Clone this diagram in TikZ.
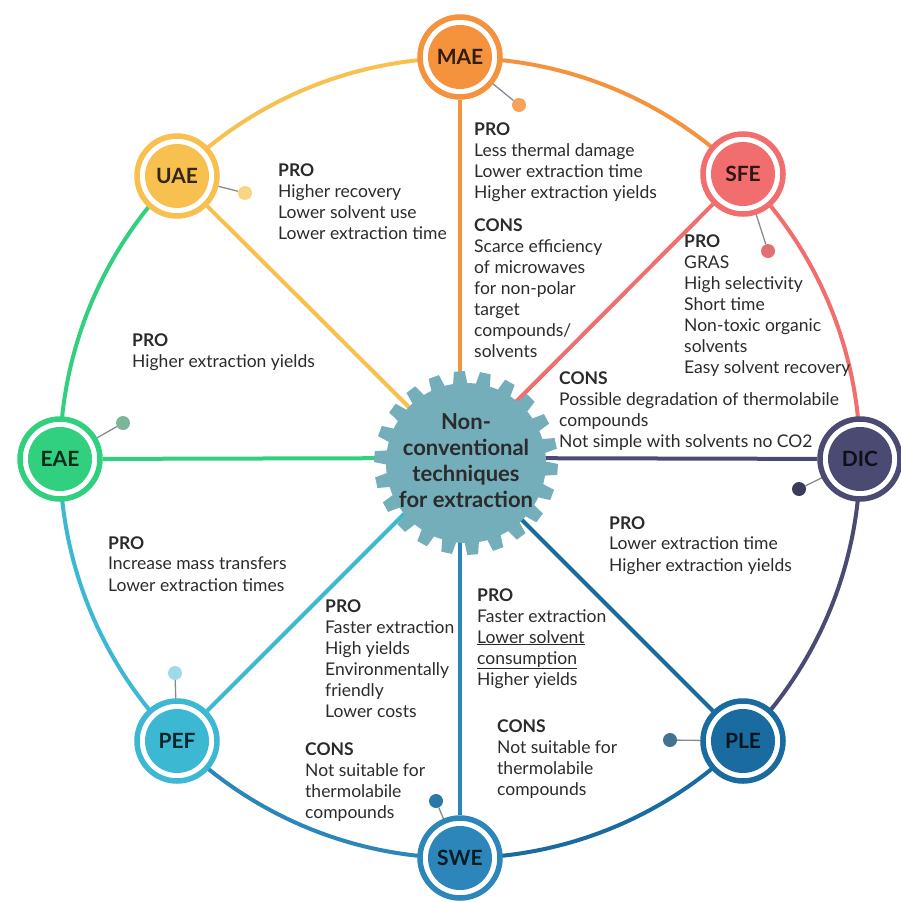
\documentclass[tikz,border=0pt]{standalone}
\usepackage{fontspec}
\setmainfont{Lato}
\pgfdeclarelayer{background}
\pgfsetlayers{background,main}
\definecolor{cmae}{HTML}{F5923E}
\definecolor{csfe}{HTML}{F26D6E}
\definecolor{cdic}{HTML}{4B4A73}
\definecolor{cple}{HTML}{1A6BA0}
\definecolor{cswe}{HTML}{2C86B9}
\definecolor{cpef}{HTML}{3DB8D3}
\definecolor{ceae}{HTML}{30D07E}
\definecolor{cuae}{HTML}{F8C04E}
\definecolor{cgear}{HTML}{74AEBB}
\definecolor{ctxt}{HTML}{2B2B2B}
\definecolor{cline}{HTML}{8A8A8A}
\begin{document}
\begin{tikzpicture}[x=1pt,y=-1pt,
  tech/.style={circle, minimum size=80pt, inner sep=0pt, line width=5.5pt, draw=#1, fill=white,
    path picture={\fill[#1] (path picture bounding box.center) circle[radius=32pt];},
    text=black!80!#1, font=\fontsize{21}{21}\selectfont\bfseries},
  dot/.style={circle, minimum size=14pt, inner sep=0pt, fill=#1},
  dotline/.style={draw=cline, line width=1.3pt},
  spoke/.style={line width=4pt, draw=#1},
  rim/.style={line width=4pt, draw=#1},
  txt/.style={anchor=north west, align=left, inner sep=0pt, text=ctxt, font=\fontsize{17.5}{21}\selectfont},
  gearfill/.style={fill=cgear}
]
\useasboundingbox (0,0) rectangle (900,902);
\coordinate (hub) at (460,458);

% gear
\begin{scope}[shift={(466,463)}]
  \fill[gearfill] (0,0) circle[radius=80];
  \foreach \i in {0,...,21}{
    \pgfmathsetmacro{\a}{\i*360/22+4}
    \fill[gearfill] (\a-5.4:78) -- (\a-3.4:92) -- (\a+3.4:92) -- (\a+5.4:78) -- cycle;
  }
\end{scope}
\node[align=center, text=ctxt, font=\fontsize{22}{26}\selectfont\bfseries] (center) at (466,461) {Non-\\conventional\\techniques\\for extraction};

% technique nodes
\node[tech=cmae] (mae) at (460,57) {MAE};
\node[tech=csfe] (sfe) at (743,174) {SFE};
\node[tech=cdic] (dic) at (860,459) {DIC};
\node[tech=cple] (ple) at (743,741) {PLE};
\node[tech=cswe] (swe) at (460,858) {SWE};
\node[tech=cpef] (pef) at (177,741) {PEF};
\node[tech=ceae] (eae) at (60,459) {EAE};
\node[tech=cuae] (uae) at (177,176) {UAE};

% dots
\node[dot=cmae!85!white] (maedot) at (519,105) {};
\node[dot=csfe!85!gray] (sfedot) at (768,251) {};
\node[dot=cdic!80!black] (dicdot) at (799,489) {};
\node[dot=cple!60!gray] (pledot) at (670,740) {};
\node[dot=cswe!90!black] (swedot) at (436,801) {};
\node[dot=cpef!50!white] (pefdot) at (175,673) {};
\node[dot=ceae!45!gray!80!white] (eaedot) at (123,423) {};
\node[dot=cuae!70!white] (uaedot) at (245,193) {};

\begin{pgfonlayer}{background}
  % rim arcs
  \draw[rim=cmae] (hub) ++(-90:400) arc[start angle=-90, end angle=-45, radius=400];
  \draw[rim=csfe] (hub) ++(-45:400) arc[start angle=-45, end angle=0, radius=400];
  \draw[rim=cdic] (hub) ++(0:400) arc[start angle=0, end angle=45, radius=400];
  \draw[rim=cple] (hub) ++(45:400) arc[start angle=45, end angle=90, radius=400];
  \draw[rim=cswe] (hub) ++(90:400) arc[start angle=90, end angle=135, radius=400];
  \draw[rim=cpef] (hub) ++(135:400) arc[start angle=135, end angle=180, radius=400];
  \draw[rim=ceae] (hub) ++(180:400) arc[start angle=180, end angle=225, radius=400];
  \draw[rim=cuae] (hub) ++(225:400) arc[start angle=225, end angle=270, radius=400];
  % spokes
  \draw[spoke=cmae] (hub) -- (mae);
  \draw[spoke=csfe] (hub) -- (sfe);
  \draw[spoke=cdic] (hub) -- (dic);
  \draw[spoke=cple] (hub) -- (ple);
  \draw[spoke=cswe] (hub) -- (swe);
  \draw[spoke=cpef] (hub) -- (pef);
  \draw[spoke=ceae] (hub) -- (eae);
  \draw[spoke=cuae] (hub) -- (uae);
  % dot connectors
  \draw[dotline] (mae.center) -- (maedot);
  \draw[dotline] (sfe.center) -- (sfedot);
  \draw[dotline] (dic.center) -- (dicdot);
  \draw[dotline] (ple.center) -- (pledot);
  \draw[dotline] (swe.center) -- (swedot);
  \draw[dotline] (pef.center) -- (pefdot);
  \draw[dotline] (eae.center) -- (eaedot);
  \draw[dotline] (uae.center) -- (uaedot);
\end{pgfonlayer}

% texts
\node[txt] (uaetxt) at (278,164) {\textbf{PRO}\\Higher recovery\\Lower solvent use\\Lower extraction time};
\node[txt] (maetxt) at (474,123) {\textbf{PRO}\\Less thermal damage\\Lower extraction time\\Higher extraction yields\\[12pt]\textbf{CONS}\\Scarce efficiency\\of microwaves\\for non-polar\\target\\compounds/\\solvents};
\node[txt] (sfetxt) at (684,235) {\textbf{PRO}\\GRAS\\High selectivity\\Short time\\Non-toxic organic\\solvents\\Easy solvent recovery};
\node[txt] (sfecons) at (559,372) {\textbf{CONS}\\Possible degradation of thermolabile\\compounds\\Not simple with solvents no CO2};
\node[txt] (eaetxt) at (132,334) {\textbf{PRO}\\Higher extraction yields};
\node[txt] (peftxt) at (108,536) {\textbf{PRO}\\Increase mass transfers\\Lower extraction times};
\node[txt] (sweltxt) at (325,599) {\textbf{PRO}\\Faster extraction\\High yields\\Environmentally\\friendly\\Lower costs};
\node[txt] (swelcons) at (305,742) {\textbf{CONS}\\Not suitable for\\thermolabile\\compounds};
\node[txt] (swertxt) at (477,588) {\textbf{PRO}\\Faster extraction\\\underline{Lower solvent}\\\underline{consumption}\\Higher yields};
\node[txt] (swercons) at (497,719) {\textbf{CONS}\\Not suitable for\\thermolabile\\compounds};
\node[txt] (dictxt) at (609,516) {\textbf{PRO}\\Lower extraction time\\Higher extraction yields};
\end{tikzpicture}
\end{document}
